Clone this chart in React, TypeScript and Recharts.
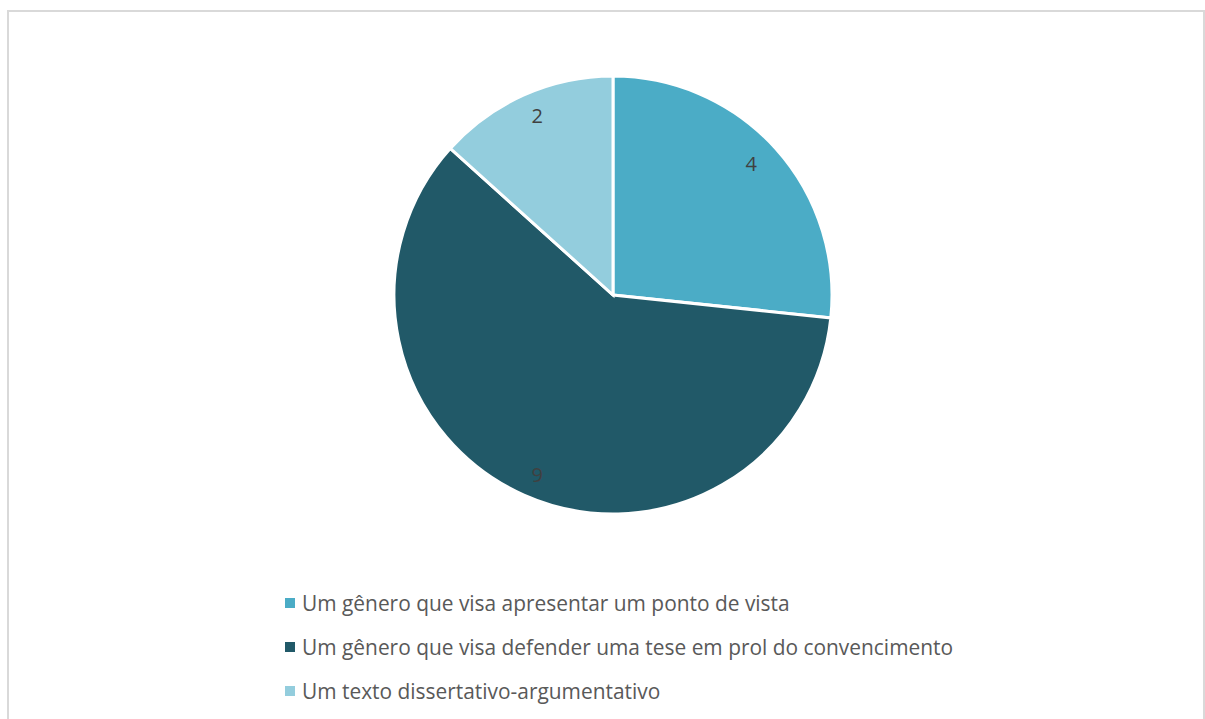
import React from "react";
import { PieChart, Pie, Cell } from "recharts";

const categories = [
  "Um gênero que visa apresentar um ponto de vista",
  "Um gênero que visa defender uma tese em prol do convencimento",
  "Um texto dissertativo-argumentativo",
];
const values = [4, 9, 2];
const colors = ["#4BACC6", "#215968", "#93CDDD"];

const data = categories.map((name, i) => ({ name, value: values[i] }));

const RAD = Math.PI / 180;
const renderLabel = (props: any) => {
  const { cx, cy, midAngle, outerRadius, value } = props;
  const rx = outerRadius * 0.85;
  const ry = outerRadius * 0.895;
  const x = cx + rx * Math.cos(-midAngle * RAD);
  const y = cy + ry * Math.sin(-midAngle * RAD);
  return (
    <text
      x={x}
      y={y}
      fill="#404040"
      fontSize={20}
      fontFamily="'Open Sans', sans-serif"
      textAnchor="middle"
      dominantBaseline="central"
    >
      {value}
    </text>
  );
};

export default function App() {
  return (
    <div style={{ position: "fixed", left: 0, top: 0, width: 1205, height: 719, background: "#fff", overflow: "hidden" }}>
      <div
        style={{
          position: "absolute",
          left: 7,
          top: 10,
          width: 1198,
          height: 720,
          border: "2px solid #d9d9d9",
          boxSizing: "border-box",
        }}
      />
      <div style={{ position: "absolute", left: 0, top: 0 }}>
        <PieChart width={1205} height={719} margin={{ top: 0, right: 0, bottom: 0, left: 0 }}>
          <Pie
            data={data}
            dataKey="value"
            nameKey="name"
            cx={613}
            cy={295}
            outerRadius={219}
            startAngle={90}
            endAngle={-270}
            stroke="#ffffff"
            strokeWidth={3}
            label={renderLabel}
            labelLine={false}
            isAnimationActive={false}
          >
            {data.map((d, i) => (
              <Cell key={d.name} fill={colors[i]} />
            ))}
          </Pie>
        </PieChart>
      </div>
      <div
        style={{
          position: "absolute",
          left: 285,
          top: 581,
          fontFamily: "'Open Sans', sans-serif",
          fontSize: 20.9,
          color: "#595959",
        }}
      >
        {categories.map((c, i) => (
          <div key={c} style={{ display: "flex", alignItems: "center", height: 44, whiteSpace: "nowrap" }}>
            <div style={{ width: 10, height: 10, background: colors[i], marginRight: 7 }} />
            <span>{c}</span>
          </div>
        ))}
      </div>
    </div>
  );
}
